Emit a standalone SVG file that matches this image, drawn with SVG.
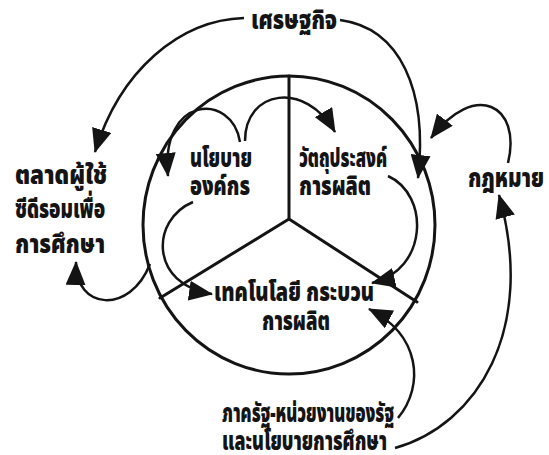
<svg xmlns="http://www.w3.org/2000/svg" width="549" height="455" viewBox="0 0 549 455">
<style>
.t{font-family:"Noto Sans Thai","Noto Sans","DejaVu Sans",sans-serif;font-weight:900;font-size:26px;fill:#141414}
.c{fill:none;stroke:#141414;stroke-width:3;stroke-linecap:round}
.a{fill:none;stroke:#141414;stroke-width:2.5;marker-end:url(#ah)}
</style>
<defs>
<marker id="ah" viewBox="0 0 24 20" refX="23" refY="10" markerWidth="24" markerHeight="20" markerUnits="userSpaceOnUse" orient="auto">
<path d="M0,0 L24,10 L0,20 Z" fill="#141414"/>
</marker>
</defs>
<rect width="549" height="455" fill="#ffffff"/>
<g id="circle">
<ellipse class="c" cx="289" cy="225" rx="146" ry="149"/>
<path class="c" d="M289,76 V219 M289,219 L160,298 M289,219 L417,302" stroke-width="2.8"/>
</g>
<g id="n-econ"><text class="t" x="251" y="29" textLength="86" lengthAdjust="spacingAndGlyphs">เศรษฐกิจ</text></g>
<g id="n-market">
<text class="t" x="15" y="184" textLength="92" lengthAdjust="spacingAndGlyphs">ตลาดผู้ใช้</text>
<text class="t" x="15" y="218" textLength="90" lengthAdjust="spacingAndGlyphs">ซีดีรอมเพื่อ</text>
<text class="t" x="15" y="253" textLength="90" lengthAdjust="spacingAndGlyphs">การศึกษา</text>
</g>
<g id="n-policy">
<text class="t" x="190" y="167" textLength="62" lengthAdjust="spacingAndGlyphs">นโยบาย</text>
<text class="t" x="190" y="195" textLength="60" lengthAdjust="spacingAndGlyphs">องค์กร</text>
</g>
<g id="n-objective">
<text class="t" x="299" y="167" textLength="88" lengthAdjust="spacingAndGlyphs">วัตถุประสงค์</text>
<text class="t" x="299" y="195" textLength="72" lengthAdjust="spacingAndGlyphs">การผลิต</text>
</g>
<g id="n-law"><text class="t" x="468" y="187" textLength="76" lengthAdjust="spacingAndGlyphs">กฎหมาย</text></g>
<g id="n-tech">
<text class="t" x="214" y="301" textLength="160" lengthAdjust="spacingAndGlyphs">เทคโนโลยี กระบวน</text>
<text class="t" x="262" y="330" textLength="68" lengthAdjust="spacingAndGlyphs">การผลิต</text>
</g>
<g id="n-state">
<text class="t" x="222" y="422" textLength="172" lengthAdjust="spacingAndGlyphs">ภาครัฐ-หน่วยงานของรัฐ</text>
<text class="t" x="222" y="450" textLength="165" lengthAdjust="spacingAndGlyphs">และนโยบายการศึกษา</text>
</g>
<g id="connectors">
<path class="a" d="M244,18 C180,20 120,70 95,152"/>
<path class="a" d="M340,20 C400,28 428,90 418,178"/>
<path class="a" d="M240,142 C232,92 160,95 168,176"/>
<path class="a" d="M245,141 C245,90 305,80 335,132"/>
<path class="a" d="M193,202 C150,220 150,285 212,294"/>
<path class="a" d="M388,176 C430,195 428,270 372,283"/>
<path class="a" d="M398,418 C425,385 420,335 369,309"/>
<path class="a" d="M395,448 C477,425 537,330 499,195"/>
<path class="a" d="M508,163 C522,105 475,80 431,138"/>
<path class="a" d="M150,264 C130,315 75,310 76,262"/>
</g>
</svg>
